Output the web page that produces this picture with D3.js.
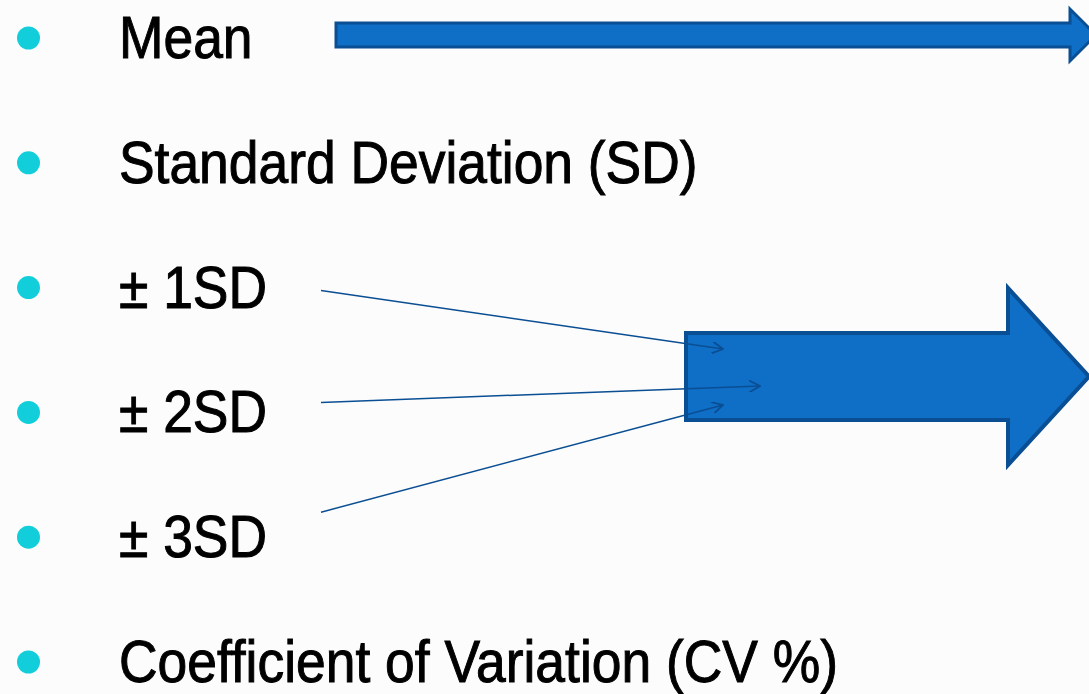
<!DOCTYPE html>
<html>
<head>
<meta charset="utf-8">
<script src="https://cdn.jsdelivr.net/npm/d3@7"></script>
<style>
  html, body { margin: 0; padding: 0; background: #fcfcfc; }
  svg { display: block; }
</style>
</head>
<body>
<svg id="canvas"></svg>
<script>
// slide content
const labels = ['Mean', 'Standard Deviation (SD)', '\u00B1 1SD', '\u00B1 2SD', '\u00B1 3SD', 'Coefficient of Variation (CV %)'];
const connectorRows = [2, 3, 4];          // rows pointing into the big arrow
const connectorStartDy = [-17, -30, -45]; // offset from the row baseline
const connectorEnds = [[723, 349], [760, 386], [723, 405]];

const width = 1089, height = 694,
    FILL = '#0f6ec6', EDGE = '#0a4e93', BULLET = '#12cedb';

const svg = d3.select('svg#canvas')
    .attr('width', width)
    .attr('height', height);

svg.append('rect').attr('width', width).attr('height', height).attr('fill', '#fcfcfc');

const y = d3.scalePoint()
    .domain(d3.range(labels.length))
    .range([58, 682]);

// arrow polygon: from x0 to tip, shaft half-height sh, head half-height hh, head starts at hx
function arrowPath(x0, hx, tip, cy, sh, hh) {
    return d3.line()([
        [x0, cy - sh], [hx, cy - sh], [hx, cy - hh], [tip, cy],
        [hx, cy + hh], [hx, cy + sh], [x0, cy + sh]
    ]) + 'Z';
}

// thin "Mean" arrow
svg.append('path')
    .attr('d', arrowPath(336, 1070, 1096, 35, 12, 26))
    .attr('fill', FILL)
    .attr('stroke', EDGE)
    .attr('stroke-width', 3);

// big block arrow
svg.append('path')
    .attr('d', arrowPath(686, 1008, 1089, 376.5, 43.5, 88.5))
    .attr('fill', FILL)
    .attr('stroke', EDGE)
    .attr('stroke-width', 4)
    .attr('stroke-linejoin', 'miter');

// bullets
svg.selectAll('circle.bullet')
    .data(labels)
    .join('circle')
    .classed('bullet', true)
    .attr('cx', 28.5)
    .attr('cy', (d, i) => y(i) - 20)
    .attr('r', 11.5)
    .attr('fill', BULLET);

// labels, horizontally condensed like the original
svg.selectAll('g.label')
    .data(labels)
    .join('g')
    .classed('label', true)
    .attr('transform', (d, i) => `translate(119,${y(i)}) scale(0.905,1)`)
    .append('text')
    .attr('font-family', 'Liberation Sans, Arial, sans-serif')
    .attr('font-size', 59)
    .attr('fill', '#000')
    .attr('stroke', '#000')
    .attr('stroke-width', 1)
    .text(d => d);

// connector lines with open arrowheads
svg.append('defs').append('marker')
    .attr('id', 'openhead')
    .attr('viewBox', '0 0 12 12')
    .attr('refX', 11).attr('refY', 6)
    .attr('markerWidth', 12).attr('markerHeight', 12)
    .attr('markerUnits', 'userSpaceOnUse')
    .attr('orient', 'auto')
    .append('path')
    .attr('d', 'M0,0L11,6L0,12')
    .attr('fill', 'none')
    .attr('stroke', EDGE)
    .attr('stroke-width', 1.8);

svg.selectAll('line.connector')
    .data(connectorRows)
    .join('line')
    .classed('connector', true)
    .attr('x1', 321)
    .attr('y1', (r, i) => y(r) + connectorStartDy[i])
    .attr('x2', (r, i) => connectorEnds[i][0])
    .attr('y2', (r, i) => connectorEnds[i][1])
    .attr('stroke', EDGE)
    .attr('stroke-width', 1.5)
    .attr('marker-end', 'url(#openhead)');
</script>
</body>
</html>
